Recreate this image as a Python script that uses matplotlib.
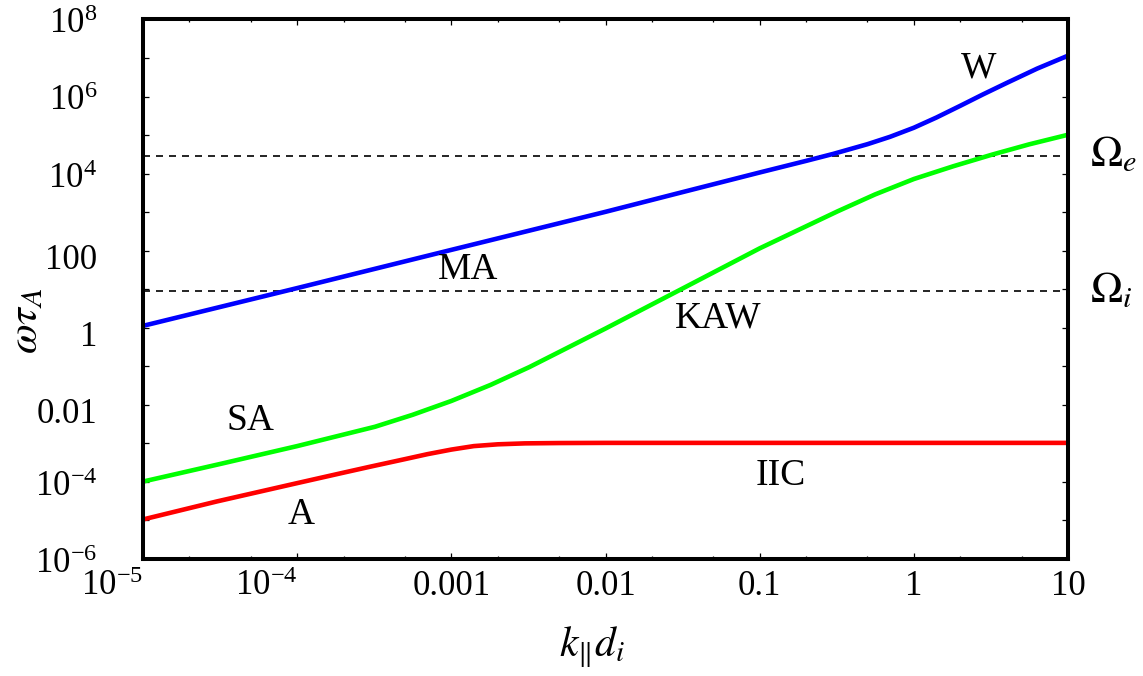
import matplotlib
matplotlib.use("Agg")
import matplotlib.pyplot as plt
import matplotlib.transforms as mtransforms
import numpy as np

plt.rcParams['font.family'] = ['Liberation Serif', 'DejaVu Serif']
plt.rcParams['mathtext.fontset'] = 'stix'

# MA / whistler branch (blue)
k_blue = [1e-5, 1e-4, 1e-3, 1e-2, 0.03, 0.1, 0.2, 0.3, 0.5, 0.7, 1, 1.4, 2, 2.8, 4, 6.3, 10]
w_blue = [1.12, 10.7, 105, 1020, 3140, 1.07e4, 2.14e4, 3.25e4, 5.8e4, 9.0e4,
          1.55e5, 2.85e5, 5.75e5, 1.13e6, 2.25e6, 5.3e6, 1.15e7]
# SA / KAW branch (green)
k_green = [1e-5, 3.2e-5, 1e-4, 3.2e-4, 5.6e-4, 1e-3, 1.8e-3, 3.2e-3, 5.6e-3, 1e-2,
           3.2e-2, 0.1, 0.32, 0.56, 1, 1.8, 3.2, 5.6, 10]
w_green = [1.02e-4, 2.95e-4, 8.5e-4, 2.7e-3, 5.5e-3, 1.26e-2, 3.3e-2, 9.5e-2, 0.295, 0.955,
           10.7, 115, 1050, 2880, 7240, 1.55e4, 3.09e4, 5.75e4, 1.02e5]
# A / IIC branch (red)
k_red = [1e-5, 3e-5, 1e-4, 2e-4, 3e-4, 5e-4, 7e-4, 1e-3, 1.4e-3, 2e-3, 3e-3, 5e-3, 1e-2, 10]
w_red = [1.06e-5, 3.1e-5, 9.3e-5, 1.74e-4, 2.5e-4, 3.9e-4, 5.25e-4, 6.9e-4, 8.5e-4,
         9.45e-4, 1.0e-3, 1.02e-3, 1.03e-3, 1.03e-3]
omega_i, omega_e = 8.8, 2.9e4

xticks = [1e-5, 1e-4, 1e-3, 1e-2, 0.1, 1, 10]
xlabels = [r'$\mathregular{10^{-5}}$', r'$\mathregular{10^{-4}}$', '0.001', '0.01', '0.1', '1', '10']
yticks = [10.0 ** p for p in range(-6, 9)]
ylabels = [r'$\mathregular{10^{-6}}$', '', r'$\mathregular{10^{-4}}$', '', '0.01', '', '1', '',
           '100', '', r'$\mathregular{10^{4}}$', '', r'$\mathregular{10^{6}}$', '', r'$\mathregular{10^{8}}$']

fig = plt.figure(figsize=(11.43, 6.76), dpi=100)
ax = fig.add_axes([0.1251, 0.1731, 0.8093, 0.7981])
ax.set_xscale('log'); ax.set_yscale('log')
ax.set_xlim(1e-5, 10); ax.set_ylim(1e-6, 1e8)

ax.axhline(omega_e, color='k', lw=1.2, ls=(0, (4.2, 3.6)))
ax.axhline(omega_i, color='k', lw=1.2, ls=(0, (4.2, 3.6)))
ax.plot(k_red, w_red, color='#ff0000', lw=3.3, solid_joinstyle='round')
ax.plot(k_green, w_green, color='#00ff00', lw=3.3, solid_joinstyle='round')
ax.plot(k_blue, w_blue, color='#0000ff', lw=3.3, solid_joinstyle='round')

for s in ax.spines.values():
    s.set_linewidth(2.9)

ax.set_xticks(xticks)
ax.set_xticklabels(xlabels)
ax.set_xticks([m * d for d in xticks[:-1] for m in (2, 5)], minor=True)
ax.set_yticks(yticks)
ax.set_yticklabels(ylabels)
ax.yaxis.set_minor_locator(matplotlib.ticker.NullLocator())
ax.tick_params(which='both', direction='in', top=True, right=True, width=0.9)
ax.tick_params(which='major', length=4.5)
ax.tick_params(which='minor', length=2.5)
ax.tick_params(axis='x', labelsize=25, pad=8)
ax.tick_params(axis='y', labelsize=25, pad=33)
for lbl in ax.get_xticklabels():
    if '^' in lbl.get_text():
        lbl.set_ha('right')
for lbl in ax.get_yticklabels():
    dy = -1 if '^' in lbl.get_text() else -4
    lbl.set_transform(lbl.get_transform() + mtransforms.ScaledTranslation(0, dy / 72, fig.dpi_scale_trans))

ax.set_xlabel(r'$k_{\|}d_i$', fontsize=30)
ax.xaxis.set_label_coords(0.485, -0.122)
ax.set_ylabel(r'$\omega\tau_A$', fontsize=31)
ax.yaxis.set_label_coords(-0.104, 0.441)

lab = dict(fontsize=27, ha='center', va='center')
ax.text(1.28e-3, 32, 'MA', **lab)
ax.text(5.0e-5, 3.9e-3, 'SA', **lab)
ax.text(1.06e-4, 1.4e-5, 'A', **lab)
ax.text(0.137, 1.46e-4, 'IIC', **lab)
ax.text(0.0536, 1.8, 'KAW', **lab)
ax.text(2.64, 5.5e6, 'W', **lab)
tr = mtransforms.blended_transform_factory(ax.transAxes, ax.transData)
ax.text(1.024, omega_e, r'$\Omega_e$', transform=tr, fontsize=31, ha='left', va='center')
ax.text(1.024, omega_i, r'$\Omega_i$', transform=tr, fontsize=31, ha='left', va='center')

fig.savefig('out.png', dpi=100)
